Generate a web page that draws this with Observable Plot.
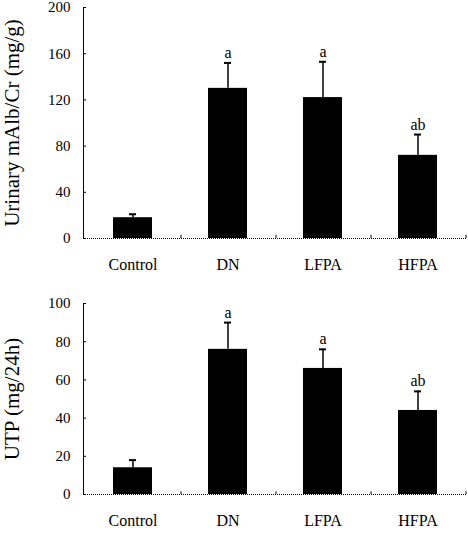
<!DOCTYPE html>
<html>
<head>
<meta charset="utf-8">
<script src="https://cdn.jsdelivr.net/npm/d3@7"></script>
<script src="https://cdn.jsdelivr.net/npm/@observablehq/plot@0.6"></script>
<style>
  html, body { margin: 0; padding: 0; background: white; }
  svg { display: block; }
</style>
</head>
<body>
<div id="chart"></div>
<script>
const categories = ["Control", "DN", "LFPA", "HFPA"];

const albMean = [18, 130, 122, 72];
const albErr = [3, 22, 31, 18];
const albLetters = ["", "a", "a", "ab"];
const albTicks = [0, 40, 80, 120, 160, 200];
const albLabel = "Urinary mAlb/Cr (mg/g)";

const utpMean = [14, 76, 66, 44];
const utpErr = [4, 14, 10, 10];
const utpLetters = ["", "a", "a", "ab"];
const utpTicks = [0, 20, 40, 60, 80, 100];
const utpLabel = "UTP (mg/24h)";

function makeChart({means, errs, letters, ticks, label, labelSize, height, marginTop, marginBottom}) {
  const data = categories.map((c, i) => ({cat: c, value: means[i], hi: means[i] + errs[i], letter: letters[i]}));
  const yMax = ticks[ticks.length - 1];
  const dash = "1,1";
  return Plot.plot({
    width: 468,
    height,
    marginLeft: 83,
    marginRight: 2,
    marginTop,
    marginBottom,
    style: {fontFamily: "'Liberation Serif', serif", fontSize: "15px", color: "black", background: "white", overflow: "visible"},
    x: {domain: categories, padding: 0, label: null},
    y: {domain: [0, yMax], label: null},
    marks: [
      Plot.ruleX(data, {x: "cat", y1: "value", y2: "hi", stroke: "black", strokeWidth: 1.5}),
      Plot.tickY(data, {x: "cat", y: "hi", insetLeft: 44, insetRight: 44, stroke: "black", strokeWidth: 2}),
      Plot.barY(data, {x: "cat", y: "value", fill: "black", insetLeft: 28, insetRight: 28}),
      Plot.text(data, {x: "cat", y: "hi", text: "letter", dy: -5, lineAnchor: "bottom", fontSize: 16}),
      Plot.axisY({ticks, tickSize: -3, tickPadding: 16, tickFormat: d => String(d), fontSize: 15, label: null}),
      Plot.axisX({tickSize: 0, tickPadding: 20, fontSize: 16, label: null}),
      Plot.text([label], {frameAnchor: "left", textAnchor: "middle", rotate: -90, dx: -71, fontSize: labelSize}),
      Plot.frame({anchor: "left", strokeDasharray: dash}),
      Plot.ruleY([0], {strokeDasharray: dash}),
      Plot.ruleX(categories, {x: d => d, dx: 48, y1: 0, y2: yMax * 0.014, stroke: "black"})
    ]
  });
}

const root = document.getElementById("chart");
root.appendChild(makeChart({means: albMean, errs: albErr, letters: albLetters, ticks: albTicks, label: albLabel, labelSize: 21, height: 280, marginTop: 7, marginBottom: 42}));
root.appendChild(makeChart({means: utpMean, errs: utpErr, letters: utpLetters, ticks: utpTicks, label: utpLabel, labelSize: 21, height: 254, marginTop: 23, marginBottom: 40}));
</script>
</body>
</html>
